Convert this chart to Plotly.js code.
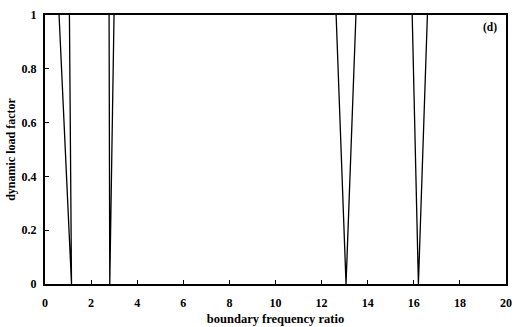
<!DOCTYPE html>
<html>
<head>
<meta charset="utf-8">
<script src="https://cdn.plot.ly/plotly-3.0.1.min.js"></script>
<style>html,body{margin:0;padding:0;background:#fff;}#chart{width:520px;height:327px;}</style>
</head>
<body>
<div id="chart"></div>
<script>
// Boundary frequency ratio (x) and dynamic load factor (y), segments separated by null
const ratio = [0.61, 1.15, 1.06, null, 2.78, 2.81, 2.995, null, 12.63, 13.06, 13.49, null, 15.93, 16.2, 16.59];
const dlf   = [1.0,  0.0,  1.0,  null, 1.0,  0.0,  1.0,   null, 1.0,   0.0,   1.0,   null, 1.0,   0.0,  1.0];
const xTicks = [0, 2, 4, 6, 8, 10, 12, 14, 16, 18, 20];
const yTicks = [0, 0.2, 0.4, 0.6, 0.8, 1];
const panelLabel = "(d)";

const fam = "Liberation Serif, Times New Roman, serif";

const trace = {
  x: ratio, y: dlf, type: "scatter", mode: "lines",
  line: {color: "#000", width: 1.3},
  connectgaps: false, hoverinfo: "skip"
};

const axisCommon = {
  showline: true, linecolor: "#000", linewidth: 2, mirror: true,
  ticks: "inside", ticklen: 4, tickcolor: "#000", tickwidth: 1,
  showgrid: false, zeroline: false,
  tickfont: {family: fam, size: 12, color: "#000"}
};

const bold = v => "<b>" + v + "</b>";

const layout = {
  width: 520, height: 327,
  margin: {l: 45, r: 14, t: 15, b: 43},
  paper_bgcolor: "#fff", plot_bgcolor: "#fff",
  showlegend: false,
  font: {family: fam, size: 11, color: "#000"},
  xaxis: Object.assign({}, axisCommon, {
    range: [0, 20], tickvals: xTicks, ticktext: xTicks.map(bold),
    ticklabelstandoff: 7,
    title: {text: bold("boundary frequency ratio"), font: {family: fam, size: 12.5, color: "#000"}, standoff: 5}
  }),
  yaxis: Object.assign({}, axisCommon, {
    range: [0, 1], tickvals: yTicks, ticktext: yTicks.map(bold),
    ticklabelstandoff: 4,
    title: {text: bold("dynamic load factor"), font: {family: fam, size: 12, color: "#000"}, standoff: 3}
  }),
  annotations: [{
    text: bold(panelLabel), xref: "paper", yref: "paper",
    x: 0.966, y: 0.955, xanchor: "center", yanchor: "middle", showarrow: false,
    font: {family: fam, size: 11.5, color: "#000"}
  }]
};

Plotly.newPlot("chart", [trace], layout, {staticPlot: true, displayModeBar: false});
</script>
</body>
</html>
